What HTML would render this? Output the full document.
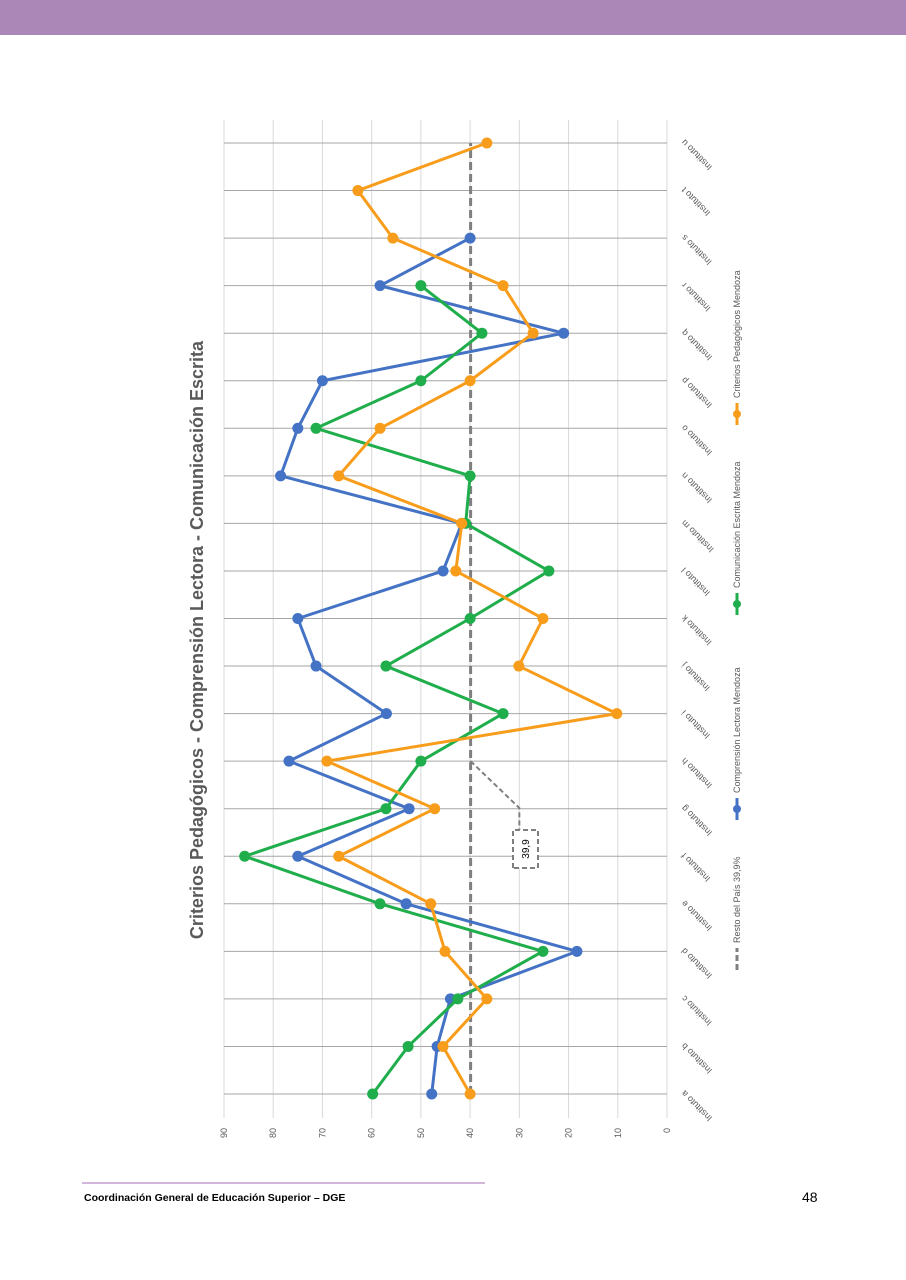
<!DOCTYPE html>
<html><head><meta charset="utf-8">
<style>
html,body{margin:0;padding:0;background:#fff;}
svg{display:block;font-family:"Liberation Sans",sans-serif;}
</style></head>
<body>
<svg id="page" width="906" height="1280" viewBox="0 0 906 1280" xmlns="http://www.w3.org/2000/svg">
<rect x="0" y="0" width="906" height="35" fill="#ab87b8"/>
<line x1="82" y1="1183" x2="485" y2="1183" stroke="#b98cc4" stroke-width="1.2"/>
<text x="84" y="1201" font-size="10.5" font-weight="bold" fill="#000">Coordinación General de Educación Superior – DGE</text>
<text x="802" y="1202" font-size="14" fill="#000">48</text>
<g id="chart" transform="translate(0,1280) rotate(-90)"></g>
</svg>
<script>
const categories=["Instituto a","Instituto b","Instituto c","Instituto d","Instituto e","Instituto f","Instituto g","Instituto h","Instituto i","Instituto j","Instituto k","Instituto l","Instituto m","Instituto n","Instituto o","Instituto p","Instituto q","Instituto r","Instituto s","Instituto t","Instituto u"];
const comprension=[47.8,46.7,44,18.3,53,75,52.4,76.8,57,71.3,75,45.5,41.7,78.5,75,70,21,58.3,40,null,null];
const comunicacion=[59.8,52.6,42.5,25.2,58.3,85.8,57.1,50,33.3,57.1,40,24,40.9,40,71.3,50,37.6,50,null,null,null];
const criterios=[40,45.5,36.6,45.1,48,66.7,47.2,69.1,10.2,30.1,25.2,42.9,41.7,66.7,58.3,40,27.2,33.3,55.7,62.8,36.6];
const restoPais=39.9;
const valueTicks=[0,10,20,30,40,50,60,70,80,90];

const NS="http://www.w3.org/2000/svg";
const g=document.getElementById('chart');
const X0=186,X1=1137,Y0=667,Y90=224;
const xPos=i=>X0+i*(X1-X0)/(categories.length-1);
const yPos=v=>Y0+(Y90-Y0)*v/90;
function mk(tag,attrs,parent){const e=document.createElementNS(NS,tag);for(const k in attrs)e.setAttribute(k,attrs[k]);(parent||g).appendChild(e);return e;}

// value gridlines
valueTicks.forEach(v=>{
  const l=mk('line',{x1:162,x2:1160,y1:yPos(v),y2:yPos(v),stroke:'#d9d9d9','stroke-width':1});
  
  
  const t=mk('text',{x:152,y:yPos(v)+3,'text-anchor':'end','font-size':9,fill:'#595959'});
  t.textContent=v;
  
  
});
// category lines and labels
categories.forEach((c,i)=>{
  const x=xPos(i);
  const l=mk('line',{x1:x,x2:x,y1:yPos(90),y2:Y0,stroke:'#a6a6a6','stroke-width':1});
  
  
  const t=mk('text',{x:x+4,y:Y0+18,'text-anchor':'end','font-size':9,fill:'#595959',transform:`rotate(-45 ${x+4} ${Y0+18})`});
  t.textContent=c;
  
  
});
// reference dashed line
const ref=mk('line',{x1:xPos(0),x2:xPos(categories.length-1),y1:yPos(restoPais),y2:yPos(restoPais),stroke:'#7f7f7f','stroke-width':3,'stroke-dasharray':'8,4'});


// callout
const lead=mk('polyline',{points:`${xPos(7)},${yPos(restoPais)} 472,${yPos(30)} 450,${yPos(30)}`,fill:'none',stroke:'#7f7f7f','stroke-width':2,'stroke-dasharray':'5,3'});


const box=mk('rect',{x:412,y:513,width:38,height:25,fill:'#fff',stroke:'#7f7f7f','stroke-width':2,'stroke-dasharray':'5,3'});


const bt=mk('text',{x:431,y:529,'text-anchor':'middle','font-size':10,fill:'#000'});
bt.textContent=String(restoPais).replace('.',',');



function series(vals,color,name){
  const pts=[];vals.forEach((v,i)=>{if(v!==null)pts.push([xPos(i),yPos(v)]);});
  const p=mk('polyline',{points:pts.map(p=>p.join(',')).join(' '),fill:'none',stroke:color,'stroke-width':3,'stroke-linejoin':'round'});
  
  
  pts.forEach(q=>{
    const c=mk('circle',{cx:q[0],cy:q[1],r:5.5,fill:color});
    
    
  });
}
series(comprension,'#4472c4','comprension-lectora');
series(comunicacion,'#1fae4b','comunicacion-escrita');
series(criterios,'#f89d1b','criterios-pedagogicos');

// title
const title=mk('text',{x:640,y:203,'text-anchor':'middle','font-size':18,'font-weight':'bold',fill:'#595959'});
title.textContent='Criterios Pedagógicos - Comprensión Lectora - Comunicación Escrita';



// legend
const legend=[['Resto del País 39,9%','#7f7f7f',310,true],['Comprensión Lectora Mendoza','#4472c4',460,false],['Comunicación Escrita Mendoza','#1fae4b',665,false],['Criterios Pedagógicos Mendoza','#f89d1b',855,false]];
legend.forEach(e=>{
  const y=737;
  const l=mk('line',{x1:e[2],x2:e[2]+22,y1:y,y2:y,stroke:e[1],'stroke-width':3});
  if(e[3])l.setAttribute('stroke-dasharray','6,3');
  
  
  if(!e[3]){const c=mk('circle',{cx:e[2]+11,cy:y,r:4,fill:e[1]});
    
    }
  const t=mk('text',{x:e[2]+27,y:y+3,'font-size':9,fill:'#595959'});
  t.textContent=e[0];
  
  
});
</script>
</body></html>
